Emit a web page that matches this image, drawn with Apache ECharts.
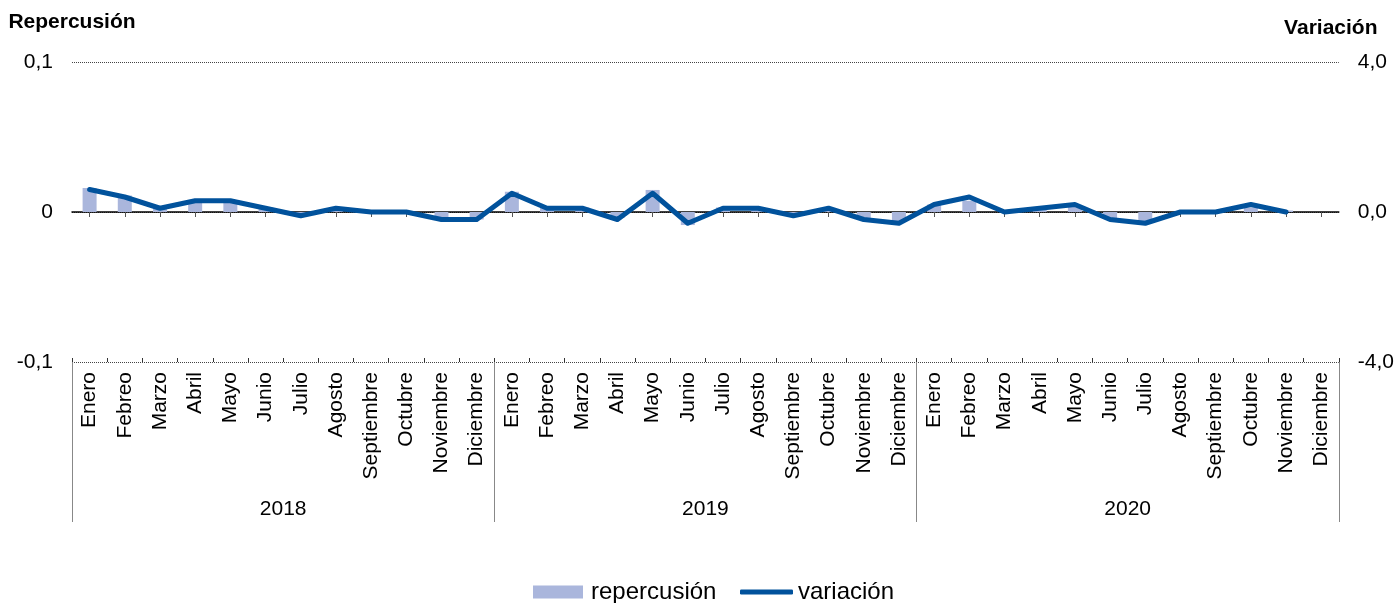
<!DOCTYPE html>
<html>
<head>
<meta charset="utf-8">
<script src="https://cdn.jsdelivr.net/npm/echarts@6/dist/echarts.min.js"></script>
<style>
html,body{margin:0;padding:0;background:#fff;}
#c{width:1397px;height:603px;}
</style>
</head>
<body>
<div id="c"></div>
<script>
var months = ['Enero','Febreo','Marzo','Abril','Mayo','Junio','Julio','Agosto','Septiembre','Octubre','Noviembre','Diciembre'];
var years = ['2018','2019','2020'];
var categories = [].concat(months, months, months);
var repercusion = [
  0.016, 0.011, 0.002, 0.008, 0.008, 0.003, -0.002, 0.002, 0.000, 0.000, -0.005, -0.005,
  0.0135, 0.003, 0.003, -0.004, 0.0147, -0.0087, 0.003, 0.003, -0.002, 0.002, -0.005, -0.0065,
  0.005, 0.0075, 0.000, 0.002, 0.004, -0.004, -0.006, 0.000, 0.000, 0.003, 0.001, null
];
var variacion = [
  0.6, 0.4, 0.1, 0.3, 0.3, 0.1, -0.1, 0.1, 0.0, 0.0, -0.2, -0.2,
  0.5, 0.1, 0.1, -0.2, 0.5, -0.3, 0.1, 0.1, -0.1, 0.1, -0.2, -0.3,
  0.2, 0.4, 0.0, 0.1, 0.2, -0.2, -0.3, 0.0, 0.0, 0.2, 0.0, null
];
var leftTicks = {min: -0.1, max: 0.1, interval: 0.1};
var rightTicks = {min: -4, max: 4, interval: 4};

var FONT = "'Liberation Sans', Arial, sans-serif";
var FS = 21;
var LFS = 24;
var chart = echarts.init(document.getElementById('c'));
chart.setOption({
  animation: false,
  textStyle: {fontFamily: FONT},
  grid: {left: 72, right: 57, top: 62, bottom: 241, containLabel: false},
  legend: [
    {
      left: 533, top: 580, padding: 0, itemWidth: 50, itemHeight: 13,
      textStyle: {fontSize: LFS, color: '#000', fontFamily: FONT, padding: [0, 0, 0, 3]},
      data: [{name: 'repercusión', icon: 'rect'}]
    },
    {
      left: 740, top: 580, padding: 0, itemWidth: 53, itemHeight: 5,
      textStyle: {fontSize: LFS, color: '#000', fontFamily: FONT},
      data: [{name: 'variación', icon: 'roundRect'}]
    }
  ],
  xAxis: [
    {
      type: 'category', data: categories, position: 'bottom',
      axisLine: {show: true, onZero: true, lineStyle: {color: '#000', width: 1.5}},
      axisTick: {show: true, alignWithLabel: true, interval: 0, length: 5, lineStyle: {color: '#555'}},
      axisLabel: {show: false}, splitLine: {show: false}
    },
    {
      type: 'category', data: categories, position: 'bottom',
      axisLine: {show: false, onZero: false},
      axisTick: {show: true, inside: true, interval: 0, length: 4, lineStyle: {color: '#333'}},
      axisLabel: {show: true, interval: 0, rotate: 90, margin: 10, fontSize: FS, color: '#000', fontFamily: FONT},
      splitLine: {show: false}
    },
    {
      type: 'category', data: years, position: 'bottom',
      axisLine: {show: false, onZero: false},
      axisTick: {show: true, interval: 0, length: 160, lineStyle: {color: '#888'}},
      axisLabel: {show: true, interval: 0, margin: 137, fontSize: FS, color: '#000', fontFamily: FONT},
      splitLine: {show: false}
    }
  ],
  yAxis: [
    {
      type: 'value', min: leftTicks.min, max: leftTicks.max, interval: leftTicks.interval,
      name: 'Repercusión', nameLocation: 'end', nameGap: 29,
      nameTextStyle: {fontSize: FS, fontWeight: 'bold', color: '#000', fontFamily: FONT, align: 'center'},
      axisLine: {show: false}, axisTick: {show: false},
      axisLabel: {margin: 19, fontSize: FS, color: '#000', fontFamily: FONT,
        formatter: function (v) { return v === 0 ? '0' : String(Math.round(v * 10) / 10).replace('.', ','); }},
      splitLine: {show: true, lineStyle: {color: '#444', type: [1, 1], width: 1}}
    },
    {
      type: 'value', min: rightTicks.min, max: rightTicks.max, interval: rightTicks.interval,
      name: 'Variación', nameLocation: 'end', nameGap: 23,
      nameTextStyle: {fontSize: FS, fontWeight: 'bold', color: '#000', fontFamily: FONT, align: 'center', padding: [0, 0, 0, -16]},
      axisLine: {show: false}, axisTick: {show: false},
      axisLabel: {margin: 19, fontSize: FS, color: '#000', fontFamily: FONT,
        formatter: function (v) { return v.toFixed(1).replace('.', ','); }},
      splitLine: {show: false}
    }
  ],
  series: [
    {
      name: 'repercusión', type: 'bar', xAxisIndex: 0, yAxisIndex: 0,
      data: repercusion, barWidth: 14, itemStyle: {color: '#aab6dc'}
    },
    {
      name: 'variación', type: 'line', xAxisIndex: 0, yAxisIndex: 1,
      data: variacion, symbol: 'none', connectNulls: false,
      lineStyle: {color: '#01529c', width: 5, cap: 'round', join: 'round'},
      itemStyle: {color: '#01529c'}
    }
  ]
});
</script>
</body>
</html>
